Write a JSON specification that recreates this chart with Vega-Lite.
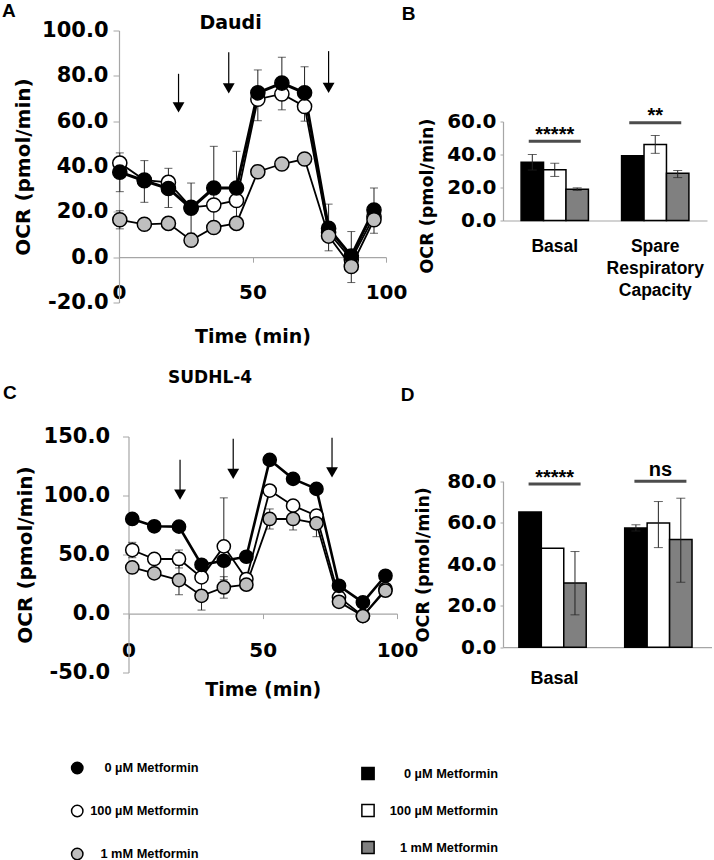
{
  "$schema": "https://vega.github.io/schema/vega-lite/v6.json",
  "background": "white",
  "padding": {"left": 2, "top": 1.5, "right": 0, "bottom": 0},
  "bounds": "flush",
  "align": "each",
  "columns": 2,
  "spacing": {"row": 134, "column": 106},
  "resolve": {"scale": {"fill": "independent"}, "legend": {"fill": "independent"}},
  "datasets": {
    "daudi": [
      {"t": 0.3, "s": "100 µM Metformin", "v": 41.5}, {"t": 9.5, "s": "100 µM Metformin", "v": 34}, {"t": 18.5, "s": "100 µM Metformin", "v": 33}, {"t": 27, "s": "100 µM Metformin", "v": 22}, {"t": 35.5, "s": "100 µM Metformin", "v": 23}, {"t": 44, "s": "100 µM Metformin", "v": 25}, {"t": 52, "s": "100 µM Metformin", "v": 69.7}, {"t": 61, "s": "100 µM Metformin", "v": 72}, {"t": 69.5, "s": "100 µM Metformin", "v": 66.5}, {"t": 78.5, "s": "100 µM Metformin", "v": 11}, {"t": 87, "s": "100 µM Metformin", "v": -1}, {"t": 95.5, "s": "100 µM Metformin", "v": 18},
      {"t": 0.3, "s": "0 µM Metformin", "v": 37.5}, {"t": 9.5, "s": "0 µM Metformin", "v": 33.7}, {"t": 18.5, "s": "0 µM Metformin", "v": 30.3}, {"t": 27, "s": "0 µM Metformin", "v": 21.6}, {"t": 35.5, "s": "0 µM Metformin", "v": 30.5}, {"t": 44, "s": "0 µM Metformin", "v": 30.5}, {"t": 52, "s": "0 µM Metformin", "v": 72.5}, {"t": 61, "s": "0 µM Metformin", "v": 76.8}, {"t": 69.5, "s": "0 µM Metformin", "v": 72.5}, {"t": 78.5, "s": "0 µM Metformin", "v": 12.7}, {"t": 87, "s": "0 µM Metformin", "v": 0.5}, {"t": 95.5, "s": "0 µM Metformin", "v": 20.8},
      {"t": 0.3, "s": "1 mM Metformin", "v": 16.5}, {"t": 9.5, "s": "1 mM Metformin", "v": 14.5}, {"t": 18.5, "s": "1 mM Metformin", "v": 14.9}, {"t": 27, "s": "1 mM Metformin", "v": 7.5}, {"t": 35.5, "s": "1 mM Metformin", "v": 13.1}, {"t": 44, "s": "1 mM Metformin", "v": 14.9}, {"t": 52, "s": "1 mM Metformin", "v": 37.7}, {"t": 61, "s": "1 mM Metformin", "v": 41.1}, {"t": 69.5, "s": "1 mM Metformin", "v": 43.3}, {"t": 78.5, "s": "1 mM Metformin", "v": 9.3}, {"t": 87, "s": "1 mM Metformin", "v": -4.1}, {"t": 95.5, "s": "1 mM Metformin", "v": 16.5}
    ],
    "daudiErr": [
      {"t": 0.3, "lo": 28.9, "hi": 46}, {"t": 9.5, "lo": 24.2, "hi": 42.6}, {"t": 18.5, "lo": 21.9, "hi": 39.2}, {"t": 27, "lo": 10.5, "hi": 32.7}, {"t": 35.5, "lo": 12.1, "hi": 48.9}, {"t": 44, "lo": 14.3, "hi": 46.7}, {"t": 52, "lo": 60.2, "hi": 82.6}, {"t": 61, "lo": 65, "hi": 88.2}, {"t": 69.5, "lo": 60, "hi": 84}, {"t": 78.5, "lo": 2.8, "hi": 23.4}, {"t": 87, "lo": -11.2, "hi": 11.3}, {"t": 95.5, "lo": 10.5, "hi": 30.5}, {"t": 0.3, "lo": 12.5, "hi": 20.5}
    ],
    "daudiArrows": [
      {"t": 22.3, "top": 80.9, "head": 66.1}, {"t": 41.1, "top": 90.4, "head": 74.5}, {"t": 78.5, "top": 90.9, "head": 74.7}
    ],
    "sud": [
      {"t": 1.4, "s": "100 µM Metformin", "v": 53.8}, {"t": 9.6, "s": "100 µM Metformin", "v": 46.2}, {"t": 18.8, "s": "100 µM Metformin", "v": 46.2}, {"t": 27.2, "s": "100 µM Metformin", "v": 30.6}, {"t": 35.5, "s": "100 µM Metformin", "v": 56.9}, {"t": 43.9, "s": "100 µM Metformin", "v": 29.2}, {"t": 52.6, "s": "100 µM Metformin", "v": 104.2}, {"t": 61.3, "s": "100 µM Metformin", "v": 91.4}, {"t": 70, "s": "100 µM Metformin", "v": 82.9}, {"t": 78.4, "s": "100 µM Metformin", "v": 13.7}, {"t": 87.3, "s": "100 µM Metformin", "v": -2}, {"t": 95.7, "s": "100 µM Metformin", "v": 20.7},
      {"t": 1.4, "s": "0 µM Metformin", "v": 80.1}, {"t": 9.6, "s": "0 µM Metformin", "v": 73.9}, {"t": 18.8, "s": "0 µM Metformin", "v": 73.6}, {"t": 27.2, "s": "0 µM Metformin", "v": 41.3}, {"t": 35.5, "s": "0 µM Metformin", "v": 44.7}, {"t": 43.9, "s": "0 µM Metformin", "v": 48.1}, {"t": 52.6, "s": "0 µM Metformin", "v": 130.2}, {"t": 61.3, "s": "0 µM Metformin", "v": 114.1}, {"t": 70, "s": "0 µM Metformin", "v": 105.6}, {"t": 78.4, "s": "0 µM Metformin", "v": 23.5}, {"t": 87.3, "s": "0 µM Metformin", "v": 9.4}, {"t": 95.7, "s": "0 µM Metformin", "v": 32},
      {"t": 1.4, "s": "1 mM Metformin", "v": 39}, {"t": 9.6, "s": "1 mM Metformin", "v": 34}, {"t": 18.8, "s": "1 mM Metformin", "v": 28.3}, {"t": 27.2, "s": "1 mM Metformin", "v": 15}, {"t": 35.5, "s": "1 mM Metformin", "v": 22.1}, {"t": 43.9, "s": "1 mM Metformin", "v": 24.4}, {"t": 52.6, "s": "1 mM Metformin", "v": 80.1}, {"t": 61.3, "s": "1 mM Metformin", "v": 80.1}, {"t": 70, "s": "1 mM Metformin", "v": 76.4}, {"t": 78.4, "s": "1 mM Metformin", "v": 9.9}, {"t": 87.3, "s": "1 mM Metformin", "v": -2.2}, {"t": 95.7, "s": "1 mM Metformin", "v": 19.3}
    ],
    "sudErr": [
      {"t": 1.4, "lo": 47.3, "hi": 60.3}, {"t": 18.8, "lo": 38.6, "hi": 53.8}, {"t": 18.8, "lo": 15.9, "hi": 40.7}, {"t": 27.2, "lo": 2.9, "hi": 27.1}, {"t": 35.5, "lo": 28.6, "hi": 98}, {"t": 35.5, "lo": 13, "hi": 31.2}, {"t": 52.6, "lo": 71.6, "hi": 88.6}, {"t": 61.3, "lo": 70.8, "hi": 89.4}, {"t": 70, "lo": 65.1, "hi": 87.7}
    ],
    "sudArrows": [
      {"t": 19.2, "top": 130.2, "head": 100.8}, {"t": 39, "top": 148, "head": 118.3}, {"t": 75.8, "top": 148.9, "head": 119.7}
    ],
    "barsB": [
      {"cat": "Basal", "s": "0 µM Metformin", "v": 35.3, "lo": 30.6, "hi": 40},
      {"cat": "Basal", "s": "100 µM Metformin", "v": 30.7, "lo": 26.7, "hi": 34.7},
      {"cat": "Basal", "s": "1 mM Metformin", "v": 19, "lo": 18.2, "hi": 19.8},
      {"cat": "Spare Respiratory Capacity", "s": "0 µM Metformin", "v": 39.2, "lo": null, "hi": null},
      {"cat": "Spare Respiratory Capacity", "s": "100 µM Metformin", "v": 46.1, "lo": 40.7, "hi": 51.5},
      {"cat": "Spare Respiratory Capacity", "s": "1 mM Metformin", "v": 28.7, "lo": 26, "hi": 30.3}
    ],
    "sigB": [
      {"cat": "Basal", "line": 48, "ty": 52, "label": "*****"},
      {"cat": "Spare Respiratory Capacity", "line": 59.2, "ty": 63.6, "label": "**"}
    ],
    "barsD": [
      {"cat": "Basal", "s": "0 µM Metformin", "v": 65.1, "lo": null, "hi": null},
      {"cat": "Basal", "s": "100 µM Metformin", "v": 47.7, "lo": null, "hi": null},
      {"cat": "Basal", "s": "1 mM Metformin", "v": 31, "lo": 15.6, "hi": 46.1},
      {"cat": "Spare Respiratory Capacity", "s": "0 µM Metformin", "v": 57.5, "lo": 56, "hi": 59},
      {"cat": "Spare Respiratory Capacity", "s": "100 µM Metformin", "v": 59.8, "lo": 48, "hi": 70.2},
      {"cat": "Spare Respiratory Capacity", "s": "1 mM Metformin", "v": 51.9, "lo": 31.3, "hi": 71.8}
    ],
    "sigD": [
      {"cat": "Basal", "line": 78.7, "ty": 81.6, "label": "*****"},
      {"cat": "Spare Respiratory Capacity", "line": 80, "ty": 85.2, "label": "ns"}
    ]
  },
  "concat": [
    {
      "width": 267,
      "height": 272,
      "layer": [
        {
          "data": {"name": "daudiArrows"},
          "mark": {"type": "rule", "color": "black", "strokeWidth": 1.2},
          "encoding": {
            "x": {"field": "t", "type": "quantitative", "scale": {"domain": [0, 100], "nice": false, "zero": false},
              "axis": {"values": [0, 50, 100], "offset": -45.3, "labelFlush": false, "tickSize": 5, "labelPadding": 20, "labelFontSize": 20, "title": "Time (min)", "titleFontSize": 19, "titlePadding": 25}},
            "y": {"field": "top", "type": "quantitative", "scale": {"domain": [-20, 100], "nice": false, "zero": false},
              "axis": {"values": [-20, 0, 20, 40, 60, 80, 100], "labelExpr": "(datum.value < 0 ? '-' : '') + format(abs(datum.value), '.1f')", "tickSize": 6, "labelPadding": 5, "labelFontSize": 21, "title": "OCR (pmol/min)", "titleFontSize": 20, "titlePadding": 8}},
            "y2": {"field": "head"}
          }
        },
        {
          "data": {"name": "daudiArrows"},
          "mark": {"type": "point", "shape": "triangle-down", "filled": true, "color": "black", "size": 140, "opacity": 1},
          "encoding": {"x": {"field": "t", "type": "quantitative"}, "y": {"field": "head", "type": "quantitative"}}
        },
        {
          "data": {"name": "daudiErr"},
          "mark": {"type": "rule", "color": "#222", "strokeWidth": 1},
          "encoding": {"x": {"field": "t", "type": "quantitative"}, "y": {"field": "lo", "type": "quantitative"}, "y2": {"field": "hi"}}
        },
        {
          "data": {"name": "daudiErr"},
          "mark": {"type": "tick", "orient": "horizontal", "color": "#222", "size": 8, "thickness": 1},
          "encoding": {"x": {"field": "t", "type": "quantitative"}, "y": {"field": "lo", "type": "quantitative"}}
        },
        {
          "data": {"name": "daudiErr"},
          "mark": {"type": "tick", "orient": "horizontal", "color": "#222", "size": 8, "thickness": 1},
          "encoding": {"x": {"field": "t", "type": "quantitative"}, "y": {"field": "hi", "type": "quantitative"}}
        },
        {
          "data": {"name": "daudi"},
          "transform": [{"filter": "datum.s != '0 µM Metformin'"}],
          "mark": {"type": "line", "color": "black", "strokeWidth": 1.8},
          "encoding": {
            "x": {"field": "t", "type": "quantitative"},
            "y": {"field": "v", "type": "quantitative"},
            "detail": {"field": "s", "type": "nominal"}
          }
        },
        {
          "data": {"name": "daudi"},
          "transform": [{"filter": "datum.s == '0 µM Metformin'"}],
          "mark": {"type": "line", "color": "black", "strokeWidth": 3},
          "encoding": {
            "x": {"field": "t", "type": "quantitative"},
            "y": {"field": "v", "type": "quantitative"}
          }
        },
        {
          "data": {"name": "daudi"},
          "mark": {"type": "point", "filled": true, "stroke": "black", "strokeWidth": 1.5, "size": 200, "opacity": 1},
          "encoding": {
            "x": {"field": "t", "type": "quantitative"},
            "y": {"field": "v", "type": "quantitative"},
            "fill": {"field": "s", "type": "nominal", "scale": {"domain": ["0 µM Metformin", "100 µM Metformin", "1 mM Metformin"], "range": ["#000000", "#ffffff", "#bfbfbf"]},
              "legend": {"orient": "none", "legendX": -48.25, "legendY": 731, "title": null, "padding": 0, "symbolType": "circle", "symbolSize": 130, "symbolStrokeColor": "black", "symbolStrokeWidth": 1.5, "labelAlign": "right", "labelOffset": 114.75, "labelFont": "Liberation Sans", "labelFontSize": 12.8, "labelFontWeight": "bold", "labelColor": "black", "labelLimit": 300, "rowPadding": 24}}
          }
        },
        {
          "data": {"values": [{}]},
          "mark": {"type": "text", "align": "center", "baseline": "middle", "font": "DejaVu Sans", "fontWeight": "bold", "fontSize": 19, "color": "black"},
          "encoding": {"x": {"datum": 41.8, "type": "quantitative"}, "y": {"datum": 103.1, "type": "quantitative"}, "text": {"value": "Daudi"}}
        },
        {
          "data": {"values": [{}]},
          "mark": {"type": "text", "align": "left", "baseline": "middle", "font": "Liberation Sans", "fontWeight": "bold", "fontSize": 19, "color": "black"},
          "encoding": {"x": {"datum": -43.8, "type": "quantitative"}, "y": {"datum": 108.4, "type": "quantitative"}, "text": {"value": "A"}}
        },
        {
          "data": {"values": [{}]},
          "mark": {"type": "text", "align": "left", "baseline": "middle", "font": "Liberation Sans", "fontWeight": "bold", "fontSize": 19, "color": "black"},
          "encoding": {"x": {"datum": 105.9, "type": "quantitative"}, "y": {"datum": 107.5, "type": "quantitative"}, "text": {"value": "B"}}
        }
      ]
    },
    {
      "width": 204,
      "height": 190,
      "layer": [
        {
          "data": {"name": "barsB"},
          "mark": {"type": "bar", "stroke": "black", "strokeWidth": 1.5},
          "encoding": {
            "x": {"field": "cat", "type": "nominal", "sort": ["Basal", "Spare Respiratory Capacity"], "scale": {"paddingInner": 0.33, "paddingOuter": 0.18},
              "axis": {"title": null, "labelAngle": 0, "ticks": false, "labelExpr": "split(datum.label, ' ')", "labelLineHeight": 22, "labelFont": "Liberation Sans", "labelFontSize": 17.5, "labelPadding": 17}},
            "xOffset": {"field": "s", "type": "nominal", "sort": ["0 µM Metformin", "100 µM Metformin", "1 mM Metformin"], "scale": {"paddingInner": 0, "paddingOuter": 0}},
            "y": {"field": "v", "type": "quantitative", "scale": {"domain": [0, 60], "nice": false, "range": [190, 91]},
              "axis": {"values": [0, 20, 40, 60], "format": ".1f", "tickSize": 3, "labelPadding": 4, "labelFontSize": 20, "title": "OCR (pmol/min)", "titleFontSize": 17.5, "titleY": 165, "titlePadding": 10}},
            "fill": {"field": "s", "type": "nominal", "scale": {"domain": ["0 µM Metformin", "100 µM Metformin", "1 mM Metformin"], "range": ["#000000", "#ffffff", "#808080"]}, "legend": null}
          }
        },
        {
          "data": {"name": "barsB"},
          "transform": [{"filter": "isValid(datum.lo)"}],
          "mark": {"type": "rule", "color": "#222", "strokeWidth": 1},
          "encoding": {
            "x": {"field": "cat", "type": "nominal", "sort": ["Basal", "Spare Respiratory Capacity"]},
            "xOffset": {"field": "s", "type": "nominal", "sort": ["0 µM Metformin", "100 µM Metformin", "1 mM Metformin"]},
            "y": {"field": "lo", "type": "quantitative"}, "y2": {"field": "hi"}
          }
        },
        {
          "data": {"name": "barsB"},
          "transform": [{"filter": "isValid(datum.lo)"}],
          "mark": {"type": "tick", "orient": "horizontal", "color": "#222", "size": 9, "thickness": 1},
          "encoding": {
            "x": {"field": "cat", "type": "nominal", "sort": ["Basal", "Spare Respiratory Capacity"]},
            "xOffset": {"field": "s", "type": "nominal", "sort": ["0 µM Metformin", "100 µM Metformin", "1 mM Metformin"]},
            "y": {"field": "lo", "type": "quantitative"}
          }
        },
        {
          "data": {"name": "barsB"},
          "transform": [{"filter": "isValid(datum.hi)"}],
          "mark": {"type": "tick", "orient": "horizontal", "color": "#222", "size": 9, "thickness": 1},
          "encoding": {
            "x": {"field": "cat", "type": "nominal", "sort": ["Basal", "Spare Respiratory Capacity"]},
            "xOffset": {"field": "s", "type": "nominal", "sort": ["0 µM Metformin", "100 µM Metformin", "1 mM Metformin"]},
            "y": {"field": "hi", "type": "quantitative"}
          }
        },
        {
          "data": {"name": "sigB"},
          "mark": {"type": "tick", "orient": "horizontal", "color": "black", "size": 52, "thickness": 3},
          "encoding": {
            "x": {"field": "cat", "type": "nominal", "sort": ["Basal", "Spare Respiratory Capacity"]},
            "y": {"field": "line", "type": "quantitative"}
          }
        },
        {
          "data": {"name": "sigB"},
          "mark": {"type": "text", "font": "Liberation Sans", "fontWeight": "bold", "fontSize": 20, "baseline": "middle", "color": "black"},
          "encoding": {
            "x": {"field": "cat", "type": "nominal", "sort": ["Basal", "Spare Respiratory Capacity"]},
            "y": {"field": "ty", "type": "quantitative"},
            "text": {"field": "label"}
          }
        }
      ]
    },
    {
      "width": 278,
      "height": 236,
      "layer": [
        {
          "data": {"name": "sudArrows"},
          "mark": {"type": "rule", "color": "black", "strokeWidth": 1.2},
          "encoding": {
            "x": {"field": "t", "type": "quantitative", "scale": {"domain": [0, 100], "nice": false, "zero": false, "range": [9.5, 278]},
              "axis": {"values": [0, 50, 100], "offset": -58.9, "labelFlush": false, "tickSize": 5, "labelPadding": 22, "labelFontSize": 20, "title": "Time (min)", "titleFontSize": 19, "titlePadding": 20}},
            "y": {"field": "top", "type": "quantitative", "scale": {"domain": [-50, 150], "nice": false, "zero": false},
              "axis": {"values": [-50, 0, 50, 100, 150], "offset": -9.5, "labelExpr": "(datum.value < 0 ? '-' : '') + format(abs(datum.value), '.1f')", "tickSize": 6, "labelPadding": 13, "labelFontSize": 21, "title": "OCR (pmol/min)", "titleFontSize": 20, "titlePadding": 8}},
            "y2": {"field": "head"}
          }
        },
        {
          "data": {"name": "sudArrows"},
          "mark": {"type": "point", "shape": "triangle-down", "filled": true, "color": "black", "size": 140, "opacity": 1},
          "encoding": {"x": {"field": "t", "type": "quantitative"}, "y": {"field": "head", "type": "quantitative"}}
        },
        {
          "data": {"name": "sudErr"},
          "mark": {"type": "rule", "color": "#222", "strokeWidth": 1},
          "encoding": {"x": {"field": "t", "type": "quantitative"}, "y": {"field": "lo", "type": "quantitative"}, "y2": {"field": "hi"}}
        },
        {
          "data": {"name": "sudErr"},
          "mark": {"type": "tick", "orient": "horizontal", "color": "#222", "size": 8, "thickness": 1},
          "encoding": {"x": {"field": "t", "type": "quantitative"}, "y": {"field": "lo", "type": "quantitative"}}
        },
        {
          "data": {"name": "sudErr"},
          "mark": {"type": "tick", "orient": "horizontal", "color": "#222", "size": 8, "thickness": 1},
          "encoding": {"x": {"field": "t", "type": "quantitative"}, "y": {"field": "hi", "type": "quantitative"}}
        },
        {
          "data": {"name": "sud"},
          "transform": [{"filter": "datum.s != '0 µM Metformin'"}],
          "mark": {"type": "line", "color": "black", "strokeWidth": 1.8},
          "encoding": {
            "x": {"field": "t", "type": "quantitative"},
            "y": {"field": "v", "type": "quantitative"},
            "detail": {"field": "s", "type": "nominal"}
          }
        },
        {
          "data": {"name": "sud"},
          "transform": [{"filter": "datum.s == '0 µM Metformin'"}],
          "mark": {"type": "line", "color": "black", "strokeWidth": 2.6},
          "encoding": {
            "x": {"field": "t", "type": "quantitative"},
            "y": {"field": "v", "type": "quantitative"}
          }
        },
        {
          "data": {"name": "sud"},
          "mark": {"type": "point", "filled": true, "stroke": "black", "strokeWidth": 1.5, "size": 175, "opacity": 1},
          "encoding": {
            "x": {"field": "t", "type": "quantitative"},
            "y": {"field": "v", "type": "quantitative"},
            "fill": {"field": "s", "type": "nominal", "scale": {"domain": ["0 µM Metformin", "100 µM Metformin", "1 mM Metformin"], "range": ["#000000", "#ffffff", "#bfbfbf"]}, "legend": null}
          }
        },
        {
          "data": {"values": [{}]},
          "mark": {"type": "text", "align": "center", "baseline": "middle", "font": "DejaVu Sans", "fontWeight": "bold", "fontSize": 17, "color": "black"},
          "encoding": {"x": {"datum": 30.4, "type": "quantitative"}, "y": {"datum": 199.7, "type": "quantitative"}, "text": {"value": "SUDHL-4"}}
        },
        {
          "data": {"values": [{}]},
          "mark": {"type": "text", "align": "left", "baseline": "middle", "font": "Liberation Sans", "fontWeight": "bold", "fontSize": 19, "color": "black"},
          "encoding": {"x": {"datum": -46.7, "type": "quantitative"}, "y": {"datum": 186.5, "type": "quantitative"}, "text": {"value": "C"}}
        },
        {
          "data": {"values": [{}]},
          "mark": {"type": "text", "align": "left", "baseline": "middle", "font": "Liberation Sans", "fontWeight": "bold", "fontSize": 19, "color": "black"},
          "encoding": {"x": {"datum": 101.4, "type": "quantitative"}, "y": {"datum": 184.8, "type": "quantitative"}, "text": {"value": "D"}}
        }
      ]
    },
    {
      "width": 209,
      "height": 210.7,
      "layer": [
        {
          "data": {"name": "barsD"},
          "mark": {"type": "bar", "stroke": "black", "strokeWidth": 1.5},
          "encoding": {
            "x": {"field": "cat", "type": "nominal", "sort": ["Basal", "Spare Respiratory Capacity"], "scale": {"paddingInner": 0.325, "paddingOuter": 0.15},
              "axis": {"title": null, "labelAngle": 0, "ticks": false, "labelExpr": "datum.label == 'Basal' ? 'Basal' : ''", "labelFont": "Liberation Sans", "labelFontSize": 18, "labelPadding": 22}},
            "xOffset": {"field": "s", "type": "nominal", "sort": ["0 µM Metformin", "100 µM Metformin", "1 mM Metformin"], "scale": {"paddingInner": 0, "paddingOuter": 0}},
            "y": {"field": "v", "type": "quantitative", "scale": {"domain": [0, 80], "nice": false, "range": [210.7, 44.7]},
              "axis": {"values": [0, 20, 40, 60, 80], "format": ".1f", "tickSize": 3, "labelPadding": 4, "labelFontSize": 20, "title": "OCR (pmol/min)", "titleFontSize": 17.5, "titlePadding": 14}},
            "fill": {"field": "s", "type": "nominal", "scale": {"domain": ["0 µM Metformin", "100 µM Metformin", "1 mM Metformin"], "range": ["#000000", "#ffffff", "#808080"]},
              "legend": {"orient": "none", "legendX": -142, "legendY": 330, "title": null, "padding": 0, "symbolType": "square", "symbolSize": 150, "symbolStrokeColor": "black", "symbolStrokeWidth": 1.5, "labelAlign": "right", "labelOffset": 123, "labelFont": "Liberation Sans", "labelFontSize": 12.8, "labelFontWeight": "bold", "labelColor": "black", "labelLimit": 300, "rowPadding": 17}}
          }
        },
        {
          "data": {"name": "barsD"},
          "transform": [{"filter": "isValid(datum.lo)"}],
          "mark": {"type": "rule", "color": "#222", "strokeWidth": 1},
          "encoding": {
            "x": {"field": "cat", "type": "nominal", "sort": ["Basal", "Spare Respiratory Capacity"]},
            "xOffset": {"field": "s", "type": "nominal", "sort": ["0 µM Metformin", "100 µM Metformin", "1 mM Metformin"]},
            "y": {"field": "lo", "type": "quantitative"}, "y2": {"field": "hi"}
          }
        },
        {
          "data": {"name": "barsD"},
          "transform": [{"filter": "isValid(datum.lo)"}],
          "mark": {"type": "tick", "orient": "horizontal", "color": "#222", "size": 9, "thickness": 1},
          "encoding": {
            "x": {"field": "cat", "type": "nominal", "sort": ["Basal", "Spare Respiratory Capacity"]},
            "xOffset": {"field": "s", "type": "nominal", "sort": ["0 µM Metformin", "100 µM Metformin", "1 mM Metformin"]},
            "y": {"field": "lo", "type": "quantitative"}
          }
        },
        {
          "data": {"name": "barsD"},
          "transform": [{"filter": "isValid(datum.hi)"}],
          "mark": {"type": "tick", "orient": "horizontal", "color": "#222", "size": 9, "thickness": 1},
          "encoding": {
            "x": {"field": "cat", "type": "nominal", "sort": ["Basal", "Spare Respiratory Capacity"]},
            "xOffset": {"field": "s", "type": "nominal", "sort": ["0 µM Metformin", "100 µM Metformin", "1 mM Metformin"]},
            "y": {"field": "hi", "type": "quantitative"}
          }
        },
        {
          "data": {"name": "sigD"},
          "mark": {"type": "tick", "orient": "horizontal", "color": "black", "size": 52, "thickness": 3},
          "encoding": {
            "x": {"field": "cat", "type": "nominal", "sort": ["Basal", "Spare Respiratory Capacity"]},
            "y": {"field": "line", "type": "quantitative"}
          }
        },
        {
          "data": {"name": "sigD"},
          "mark": {"type": "text", "font": "Liberation Sans", "fontWeight": "bold", "fontSize": 20, "baseline": "middle", "color": "black"},
          "encoding": {
            "x": {"field": "cat", "type": "nominal", "sort": ["Basal", "Spare Respiratory Capacity"]},
            "y": {"field": "ty", "type": "quantitative"},
            "text": {"field": "label"}
          }
        }
      ]
    }
  ],
  "config": {
    "view": {"stroke": null},
    "axis": {"domainColor": "#a6a6a6", "tickColor": "#a6a6a6", "domainWidth": 1.2, "grid": false, "labelColor": "black", "titleColor": "black", "labelFont": "DejaVu Sans", "titleFont": "DejaVu Sans", "labelFontWeight": "bold", "titleFontWeight": "bold", "labelOverlap": false}
  }
}
